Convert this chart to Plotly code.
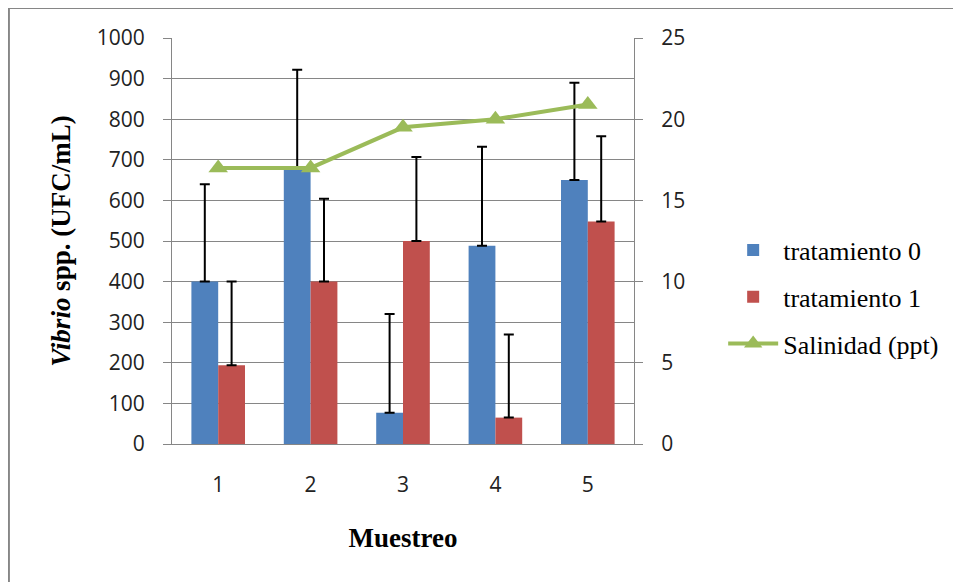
import plotly.graph_objects as go

categories = ["1", "2", "3", "4", "5"]
trat0 = [400, 678, 77, 488, 650]
trat0_err = [240, 244, 243, 244, 240]
trat1 = [194, 400, 500, 65, 548]
trat1_err = [206, 204, 207, 205, 210]
salinidad = [17, 17, 19.5, 20, 20.9]

serif = "Liberation Serif"
fig = go.Figure()
fig.add_trace(go.Bar(
    x=categories, y=trat0, name="tratamiento 0", legendgroup="a",
    marker=dict(color="#4F81BD", line=dict(width=0)),
    error_y=dict(type="data", symmetric=False, array=trat0_err, arrayminus=[0]*5,
                 color="black", thickness=2, width=5)))
fig.add_trace(go.Bar(
    x=categories, y=trat1, name="tratamiento 1", legendgroup="b",
    marker=dict(color="#C0504D", line=dict(width=0)),
    error_y=dict(type="data", symmetric=False, array=trat1_err, arrayminus=[0]*5,
                 color="black", thickness=2, width=5)))
fig.add_trace(go.Scatter(
    x=categories, y=salinidad, name="Salinidad (ppt)", legendgroup="c", yaxis="y2",
    mode="lines+markers", line=dict(color="#9BBB59", width=4),
    marker=dict(symbol="triangle-up", size=17, color="#9BBB59")))

tickfont = dict(family="Open Sans, Lato, sans-serif", size=21, color="#222")
fig.update_layout(
    width=953, height=574,
    margin=dict(l=164, r=327, t=30, b=138),
    paper_bgcolor="white", plot_bgcolor="white",
    font=dict(family=serif),
    barmode="group", bargap=0.42, bargroupgap=0,
    showlegend=True,
    legend=dict(x=1.193, y=0.362, xanchor="left", yanchor="middle", traceorder="grouped",
                font=dict(family=serif, size=26, color="black"),
                tracegroupgap=10, itemwidth=50),
    xaxis=dict(showgrid=False, showline=True, linecolor="#868686", linewidth=1,
               ticks="", tickfont=tickfont, ticklabelstandoff=22,
               title=dict(text="<b>Muestreo</b>", standoff=30,
                          font=dict(family=serif, size=27, color="black"))),
    yaxis=dict(range=[0, 1000], dtick=100, showgrid=True, gridcolor="#868686", gridwidth=1,
               showline=True, linecolor="#868686", linewidth=1, ticks="outside", ticklen=8,
               tickcolor="#868686", tickfont=tickfont, zeroline=False, ticklabelstandoff=14,
               title=dict(text="<b><i>Vibrio</i> spp. (UFC/mL)</b>", standoff=18,
                          font=dict(family=serif, size=27, color="black"))),
    yaxis2=dict(range=[0, 25], dtick=5, overlaying="y", side="right", showgrid=False,
                showline=True, linecolor="#868686", linewidth=1, ticks="outside", ticklen=8,
                tickcolor="#868686", tickfont=tickfont, zeroline=False, ticklabelstandoff=14),
    shapes=[dict(type="rect", xref="paper", yref="paper", x0=-0.353, x1=1.75, y0=-0.5, y1=1.074,
                 line=dict(color="#868686", width=2), fillcolor="rgba(0,0,0,0)", layer="below")],
)

fig.write_html("out.html")
